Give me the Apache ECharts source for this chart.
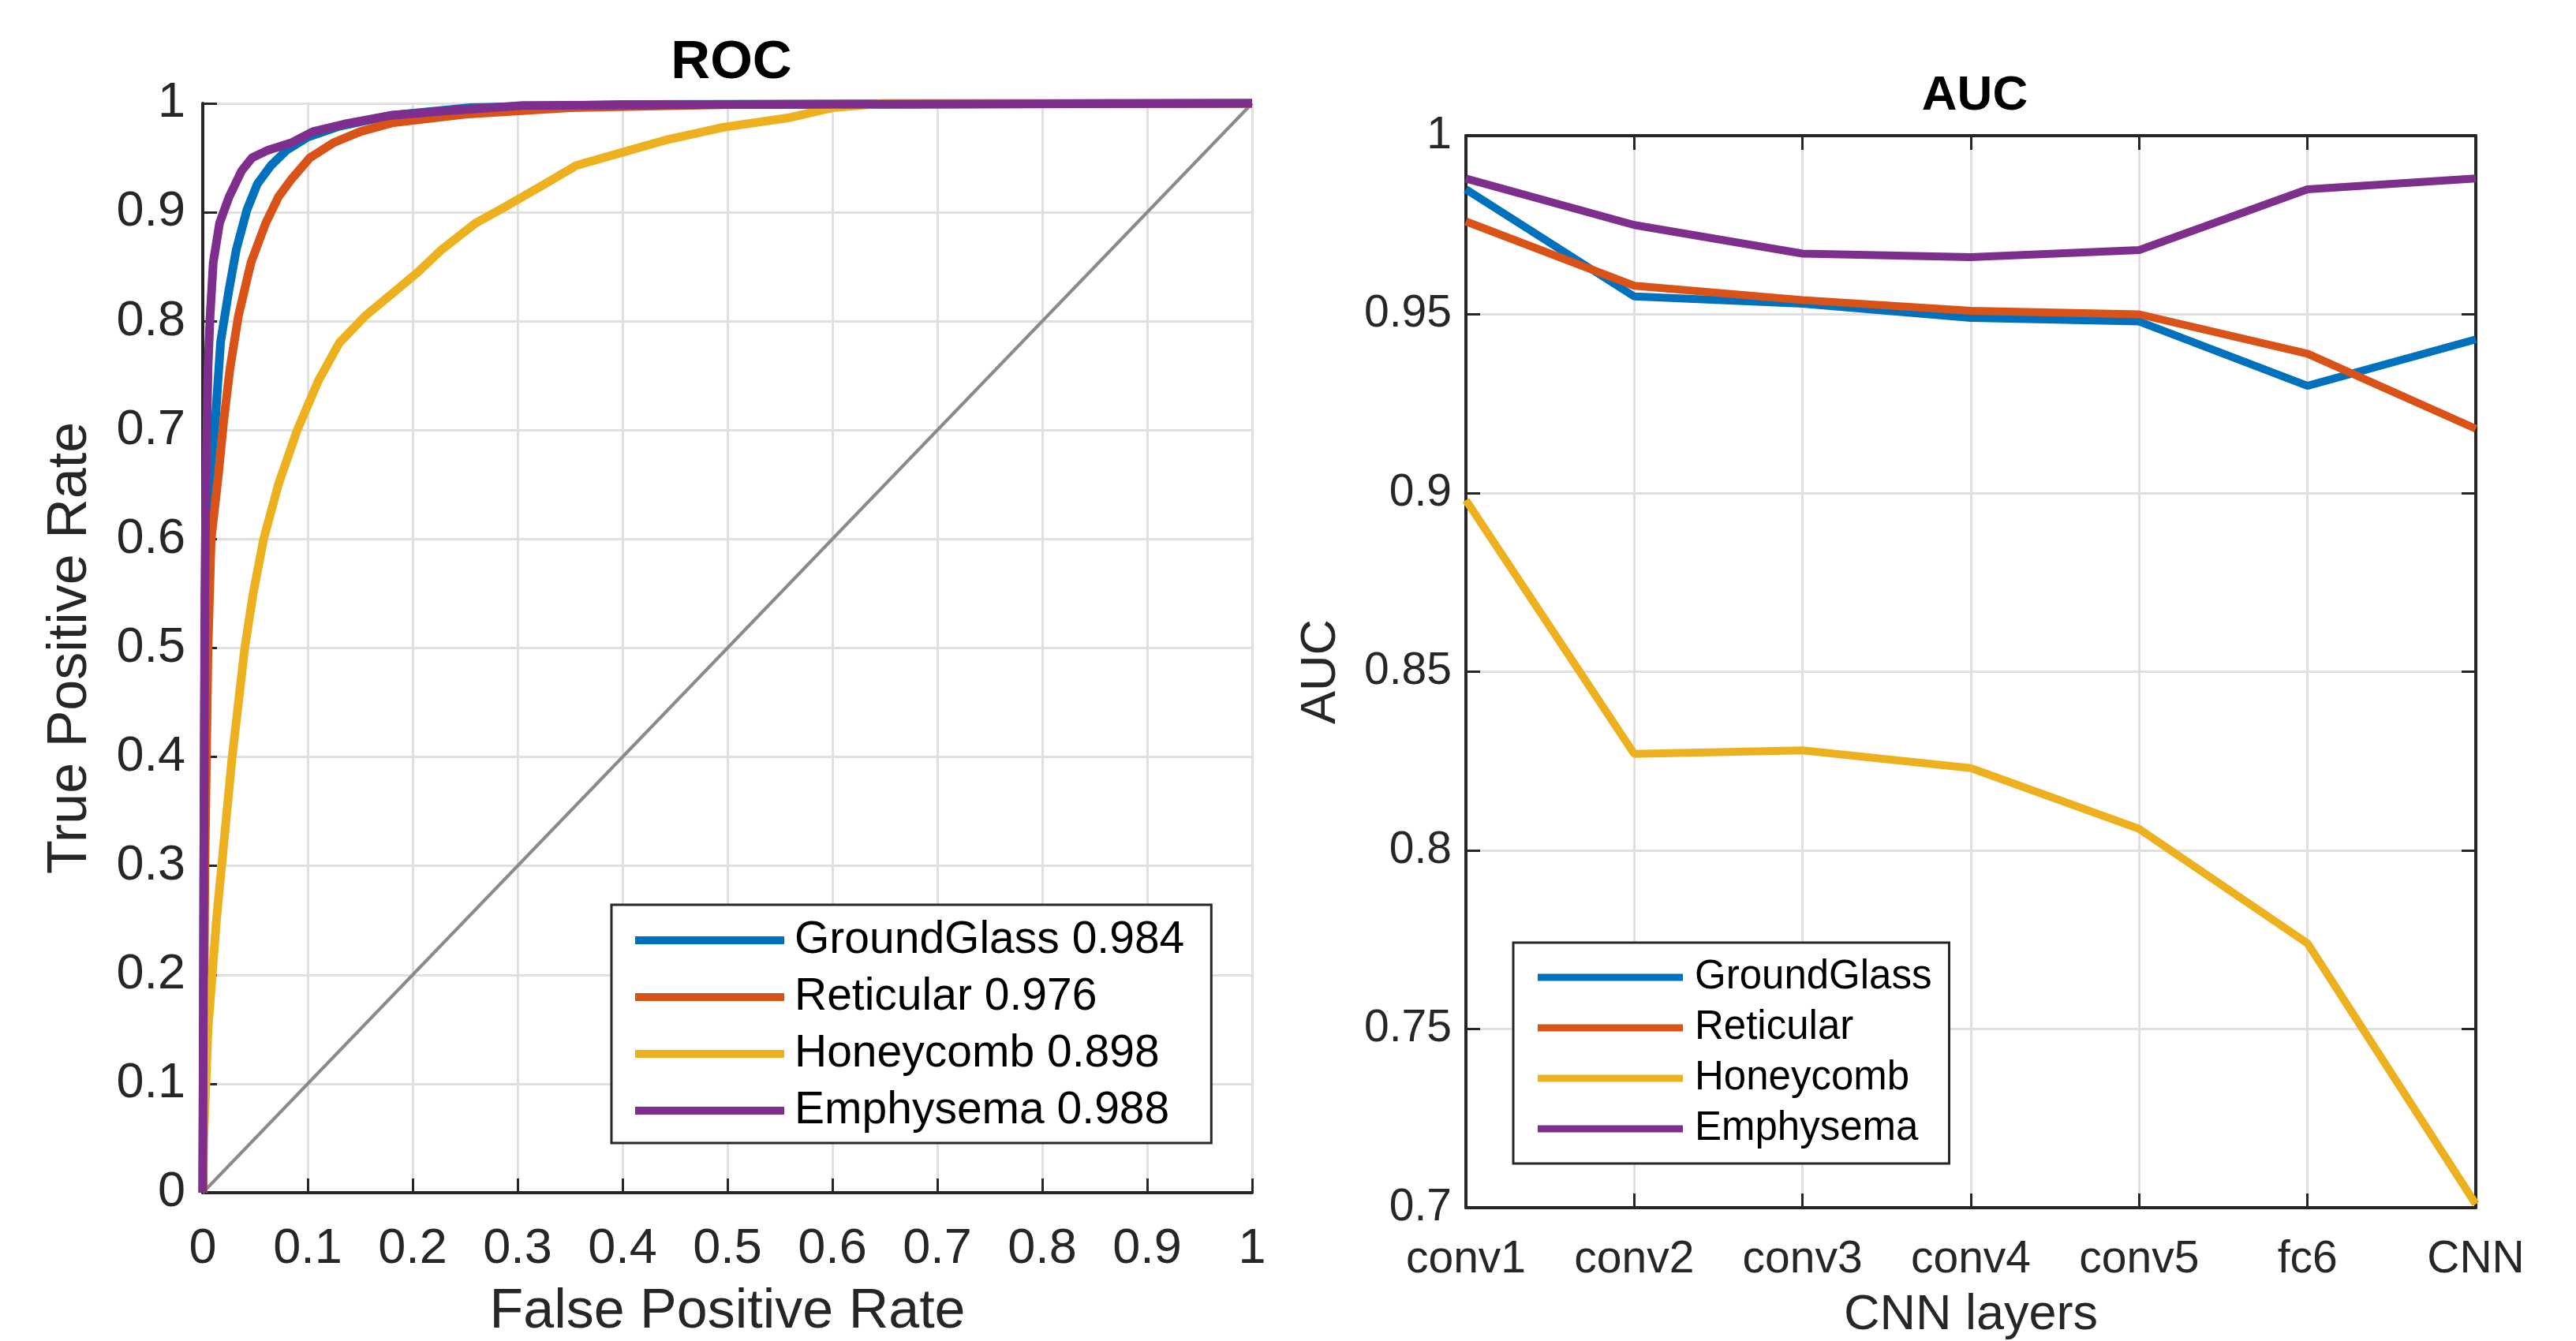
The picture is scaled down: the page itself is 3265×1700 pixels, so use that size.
<!DOCTYPE html>
<html>
<head>
<meta charset="utf-8">
<script src="https://cdn.jsdelivr.net/npm/echarts@6/dist/echarts.min.js"></script>
<style>
html,body{margin:0;padding:0;background:#fff;overflow:hidden;}
#chart{width:3265px;height:1700px;}
</style>
</head>
<body>
<div id="chart"></div>
<script>
// ---------- ROC data: [false positive rate, true positive rate] ----------
const rocGroundGlass = [[0,0],[0.001,0.3],[0.002,0.5],[0.005,0.62],[0.008,0.67],[0.012,0.709],[0.017,0.781],[0.025,0.829],[0.032,0.866],[0.042,0.902],[0.052,0.926],[0.065,0.943],[0.08,0.957],[0.1,0.969],[0.13,0.979],[0.18,0.989],[0.255,0.996],[0.4,0.999],[1,1]];
const rocReticular = [[0,0],[0.002,0.3],[0.005,0.5],[0.008,0.6],[0.015,0.66],[0.02,0.709],[0.026,0.757],[0.034,0.805],[0.046,0.854],[0.06,0.89],[0.072,0.914],[0.085,0.931],[0.102,0.95],[0.125,0.964],[0.15,0.974],[0.18,0.982],[0.25,0.99],[0.35,0.996],[0.5,0.999],[1,1]];
const rocHoneycomb = [[0,0],[0.001,0.05],[0.003,0.1],[0.005,0.15],[0.009,0.2],[0.013,0.25],[0.018,0.3],[0.023,0.35],[0.028,0.4],[0.034,0.45],[0.04,0.5],[0.048,0.55],[0.058,0.6],[0.072,0.65],[0.09,0.7],[0.11,0.745],[0.13,0.78],[0.155,0.805],[0.18,0.825],[0.205,0.845],[0.228,0.866],[0.26,0.89],[0.29,0.906],[0.326,0.926],[0.356,0.943],[0.4,0.955],[0.44,0.966],[0.496,0.978],[0.56,0.987],[0.6,0.996],[0.65,1],[1,1]];
const rocEmphysema = [[0,0],[0.001,0.3],[0.002,0.55],[0.003,0.65],[0.005,0.757],[0.007,0.805],[0.01,0.854],[0.016,0.89],[0.025,0.914],[0.037,0.938],[0.047,0.95],[0.062,0.957],[0.085,0.964],[0.105,0.974],[0.135,0.981],[0.18,0.989],[0.23,0.993],[0.305,0.998],[0.5,0.999],[1,1]];
const rocChance = [[0,0],[1,1]];
const rocNames = ['GroundGlass 0.984','Reticular 0.976','Honeycomb 0.898','Emphysema 0.988'];

// ---------- AUC per CNN layer ----------
const layers = ['conv1','conv2','conv3','conv4','conv5','fc6','CNN'];
const aucGroundGlass = [0.985,0.955,0.953,0.949,0.948,0.930,0.943];
const aucReticular   = [0.976,0.958,0.954,0.951,0.950,0.939,0.918];
const aucHoneycomb   = [0.898,0.827,0.828,0.823,0.806,0.774,0.701];
const aucEmphysema   = [0.988,0.975,0.967,0.966,0.968,0.985,0.988];
const aucNames = ['GroundGlass','Reticular','Honeycomb','Emphysema'];

const colors = ['#0072BD','#D95319','#EDB120','#7E2F8E'];
const FONT = 'Liberation Sans';
const AX = '#262626';
const GRIDC = '#e0e0e0';

const chart = echarts.init(document.getElementById('chart'), null, {renderer:'canvas'});

function valueAxis(extra){
  return Object.assign({
    type:'value',
    axisLine:{show:true,onZero:false,lineStyle:{color:AX,width:4}},
    axisTick:{show:true,inside:true,length:18,lineStyle:{color:AX,width:3}},
    splitLine:{show:true,lineStyle:{color:GRIDC,width:3}},
    axisLabel:{color:AX,fontFamily:FONT},
    nameLocation:'middle',
    nameTextStyle:{color:AX,fontFamily:FONT}
  }, extra);
}

const rocData = [rocGroundGlass, rocReticular, rocHoneycomb, rocEmphysema];
const aucData = [aucGroundGlass, aucReticular, aucHoneycomb, aucEmphysema];

const series = [{
  type:'line', name:'chance', xAxisIndex:0, yAxisIndex:0, data:rocChance,
  symbol:'none', silent:true, clip:false,
  lineStyle:{color:'#8a8a8a',width:4}, itemStyle:{color:'#8a8a8a'}, z:2
}];
rocNames.forEach((n,i)=>series.push({
  type:'line', name:n, xAxisIndex:0, yAxisIndex:0, data:rocData[i],
  symbol:'none', clip:false, lineStyle:{color:colors[i],width:11},
  itemStyle:{color:colors[i]}, z:3+i
}));
aucNames.forEach((n,i)=>series.push({
  type:'line', name:n, xAxisIndex:1, yAxisIndex:1, data:aucData[i],
  symbol:'none', clip:false, lineStyle:{color:colors[i],width:10},
  itemStyle:{color:colors[i]}, z:3+i
}));

chart.setOption({
  animation:false,
  backgroundColor:'#fff',
  textStyle:{fontFamily:FONT},
  title:[
    {text:'ROC', left:922, top:40, textAlign:'center',
     textStyle:{fontFamily:FONT,fontWeight:'bold',fontSize:69,lineHeight:69,color:'#000'}},
    {text:'AUC', left:2498, top:86, textAlign:'center',
     textStyle:{fontFamily:FONT,fontWeight:'bold',fontSize:62,lineHeight:62,color:'#000'}}
  ],
  grid:[
    {left:257, top:131, width:1330, height:1381, containLabel:false, outerBoundsMode:'none'},
    {left:1858, top:172, width:1280, height:1359, containLabel:false, outerBoundsMode:'none'}
  ],
  xAxis:[
    valueAxis({gridIndex:0, min:0, max:1, interval:0.1, position:'bottom',
      name:'False Positive Rate', nameGap:117,
      nameTextStyle:{color:AX,fontFamily:FONT,fontSize:70,lineHeight:70},
      axisLabel:{color:AX,fontFamily:FONT,fontSize:63,lineHeight:63,margin:40}}),
    {type:'category', gridIndex:1, data:layers, boundaryGap:false, position:'bottom',
      axisLine:{show:true,onZero:false,lineStyle:{color:AX,width:4}},
      axisTick:{show:true,inside:true,length:18,alignWithLabel:true,lineStyle:{color:AX,width:3}},
      splitLine:{show:true,lineStyle:{color:GRIDC,width:3}},
      axisLabel:{color:AX,fontFamily:FONT,fontSize:57,lineHeight:57,margin:38},
      name:'CNN layers', nameLocation:'middle', nameGap:105,
      nameTextStyle:{color:AX,fontFamily:FONT,fontSize:63,lineHeight:63}},
    {type:'category', gridIndex:1, data:layers, boundaryGap:false, position:'top',
      axisLine:{show:true,onZero:false,lineStyle:{color:AX,width:4}},
      axisTick:{show:true,inside:true,length:18,lineStyle:{color:AX,width:3}},
      splitLine:{show:false}, axisLabel:{show:false}}
  ],
  yAxis:[
    valueAxis({gridIndex:0, min:0, max:1, interval:0.1, position:'left',
      name:'True Positive Rate', nameGap:132,
      nameTextStyle:{color:AX,fontFamily:FONT,fontSize:70,lineHeight:70},
      axisLabel:{color:AX,fontFamily:FONT,fontSize:63,margin:22}}),
    valueAxis({gridIndex:1, min:0.7, max:1, interval:0.05, position:'left',
      name:'AUC', nameGap:152,
      nameTextStyle:{color:AX,fontFamily:FONT,fontSize:63,lineHeight:63},
      axisLabel:{color:AX,fontFamily:FONT,fontSize:57,margin:18}}),
    valueAxis({gridIndex:1, min:0.7, max:1, interval:0.05, position:'right',
      splitLine:{show:false}, axisLabel:{show:false}})
  ],
  legend:[
    {data:rocNames, orient:'vertical', left:775, top:1147,
     icon:'rect', itemWidth:189, itemHeight:10, itemGap:12,
     padding:[15,34,11,30], borderColor:AX, borderWidth:3, backgroundColor:'#fff',
     selectedMode:false,
     textStyle:{fontFamily:FONT,fontSize:57,lineHeight:60,color:'#000',padding:[0,0,0,8]}},
    {data:aucNames, orient:'vertical', left:1918, top:1195,
     icon:'rect', itemWidth:184, itemHeight:9, itemGap:10,
     padding:[17,22,17,31], borderColor:AX, borderWidth:3, backgroundColor:'#fff',
     selectedMode:false,
     textStyle:{fontFamily:FONT,fontSize:51,lineHeight:54,color:'#000',padding:[0,0,0,10]}}
  ],
  series:series
});
</script>
</body>
</html>
